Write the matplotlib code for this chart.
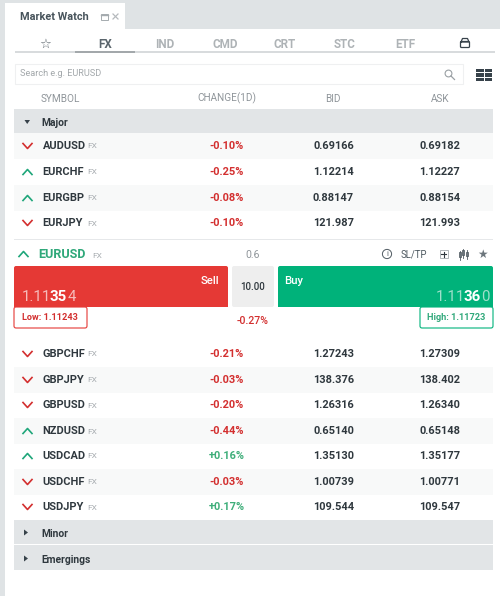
import matplotlib
matplotlib.use('Agg')
import matplotlib.pyplot as plt
from matplotlib.patches import Rectangle, FancyBboxPatch, Circle, Polygon

plt.rcParams['font.family'] = ['Roboto', 'DejaVu Sans']

# data
tabs = ['FX', 'IND', 'CMD', 'CRT', 'STC', 'ETF']
columns = ['SYMBOL', 'CHANGE(1D)', 'BID', 'ASK']
top_symbols = ['AUDUSD', 'EURCHF', 'EURGBP', 'EURJPY']
top_dirs = ['down', 'up', 'up', 'down']
top_change = ['-0.10%', '-0.25%', '-0.08%', '-0.10%']
top_bid = ['0.69166', '1.12214', '0.88147', '121.987']
top_ask = ['0.69182', '1.12227', '0.88154', '121.993']
bottom_symbols = ['GBPCHF', 'GBPJPY', 'GBPUSD', 'NZDUSD', 'USDCAD', 'USDCHF', 'USDJPY']
bottom_dirs = ['down', 'down', 'down', 'up', 'up', 'down', 'down']
bottom_change = ['-0.21%', '-0.03%', '-0.20%', '-0.44%', '+0.16%', '-0.03%', '+0.17%']
bottom_bid = ['1.27243', '138.376', '1.26316', '0.65140', '1.35130', '1.00739', '109.544']
bottom_ask = ['1.27309', '138.402', '1.26340', '0.65148', '1.35177', '1.00771', '109.547']

RED = '#e53935'
GREEN = '#00b27a'
DARK = '#37424a'
GREY = '#9aa0a4'
BAND = '#e2e5e7'

fig = plt.figure(figsize=(5, 5.96), dpi=100, facecolor='#dfe3e5')
ax = fig.add_axes([0, 0, 1, 1])
ax.set_xlim(0, 500)
ax.set_ylim(596, 0)
ax.axis('off')


def rect(x0, y0, x1, y1, color, **kw):
    ax.add_patch(Rectangle((x0, y0), x1 - x0, y1 - y0, facecolor=color, edgecolor='none', **kw))


def rrect(x0, y0, x1, y1, face, edge='none', lw=1):
    ax.add_patch(FancyBboxPatch((x0 + 2, y0 + 2), x1 - x0 - 4, y1 - y0 - 4,
                                boxstyle='round,pad=2,rounding_size=2',
                                facecolor=face, edgecolor=edge, linewidth=lw))


def chevron(x, y, d):
    if d == 'up':
        ax.plot([x - 4.5, x, x + 4.5], [y + 2.5, y - 2.5, y + 2.5], color='#1fa67a', lw=1.2)
    else:
        ax.plot([x - 4.5, x, x + 4.5], [y - 2.5, y + 2.5, y - 2.5], color='#d32f2f', lw=1.2)


def row(y, symbol, d, change, bid, ask):
    chevron(27.5, y, d)
    ax.text(42.5, y, symbol, fontsize=7.9, color='#2f383e', fontweight='semibold', va='center')
    ax.text(87, y + 0.5, 'FX', fontsize=6, color='#a8adb1', va='center')
    col = '#d32f2f' if change[0] == '-' else '#3fae7a'
    ax.text(226.5, y, change, fontsize=7.9, color=col, fontweight='semibold', va='center', ha='center')
    ax.text(333.5, y, bid, fontsize=7.9, color='#2f383e', fontweight='semibold', va='center', ha='center')
    ax.text(440, y, ask, fontsize=7.9, color='#2f383e', fontweight='semibold', va='center', ha='center')


# panel and tab
rect(5, 29, 500, 596, 'white')
rect(5, 3, 125, 29, 'white')
ax.text(19.5, 16.5, 'Market Watch', fontsize=7.8, color='#47535b', fontweight='bold', va='center')
ax.add_patch(Rectangle((100.5, 14), 7, 5.5, fill=False, edgecolor='#a5abaf', lw=0.7))
ax.plot([100.5, 107.5], [14.6, 14.6], color='#a5abaf', lw=1)
ax.plot([113, 118], [14, 19], color='#b5babd', lw=0.9)
ax.plot([113, 118], [19, 14], color='#b5babd', lw=0.9)

# symbol group tabs
rect(15, 51.3, 495, 53, '#d8dbdd')
rect(75, 51.3, 135, 53, '#a3a8ab')
ax.text(45, 44, '\u2606', fontsize=9.5, color='#5d676e', ha='center', va='center', family=['DejaVu Sans'])
for i, name in enumerate(tabs):
    ax.text(105 + 60 * i, 44.5, name, fontsize=8.4, ha='center', va='center', fontweight='bold',
            color='#5a656c' if name == 'FX' else '#aeb3b6')
ax.add_patch(FancyBboxPatch((461, 42), 8, 5, boxstyle='round,pad=0.5,rounding_size=1',
                            fill=False, edgecolor=DARK, lw=0.9))
ax.plot([461, 462.5, 467.5, 469, 461], [42, 38.5, 38.5, 42, 42], color=DARK, lw=0.9)

# search box and grid icon
ax.add_patch(Rectangle((14.5, 64), 448, 20, facecolor='white', edgecolor='#eff0f1', lw=0.8))
ax.text(20.5, 74, 'Search e.g. EURUSD', fontsize=6.6, color='#a3a8ab', va='center')
ax.add_patch(Circle((448.5, 73.5), 3.4, fill=False, edgecolor='#9aa0a4', lw=0.8))
ax.plot([451, 454.5], [76, 79.5], color='#9aa0a4', lw=0.9)
for x in [476, 484.7]:
    for y in [68.5, 73, 77.5]:
        rect(x, y, x + 7.7, y + 3.5, DARK)

# column headers
ax.text(41, 98.5, columns[0], fontsize=7.2, color='#8f959a', va='center')
for name, x in zip(columns[1:], [226.5, 333, 440]):
    ax.text(x, 98.5, name, fontsize=7.2, color='#8f959a', va='center', ha='center')

# major group
rect(14, 109, 493, 133, BAND)
ax.add_patch(Polygon([[24.5, 120], [30, 120], [27.2, 124]], facecolor=DARK))
ax.text(41.5, 122.5, 'Major', fontsize=7.4, color='#2f383e', fontweight='bold', va='center')

rect(14, 133, 493, 159, '#f8f9f9')
rect(14, 185, 493, 211, '#f8f9f9')
for i, y in enumerate([146, 172, 198, 223]):
    row(y, top_symbols[i], top_dirs[i], top_change[i], top_bid[i], top_ask[i])
rect(14, 239.2, 493, 240, '#e6e8ea')

# expanded EURUSD row
chevron(23.5, 254, 'up')
ax.text(38.5, 254.5, 'EURUSD', fontsize=9, color='#2fa87a', fontweight='bold', va='center')
ax.text(92, 255.5, 'FX', fontsize=6, color='#a8adb1', va='center')
ax.text(253, 255.5, '0.6', fontsize=7.6, color='#8f959a', ha='center', va='center')
ax.add_patch(Circle((387, 254), 4.6, fill=False, edgecolor='#4f5a61', lw=0.7))
ax.text(387, 254, 'i', fontsize=5.5, color='#4f5a61', ha='center', va='center')
ax.text(414, 254, 'SL/TP', fontsize=6.9, color='#4f5a61', ha='center', va='center')
ax.add_patch(Rectangle((439.5, 250), 8, 8, fill=False, edgecolor='#b0b5b8', lw=0.7))
ax.plot([443.5, 443.5], [251.5, 256.5], color='#2f383e', lw=0.8)
ax.plot([441, 446], [254, 254], color='#2f383e', lw=0.8)
for x, y0, y1 in [(459.5, 252, 258), (463.3, 250, 256), (467, 251.5, 257)]:
    ax.plot([x, x], [y0 - 1.5, y1 + 1.5], color='#4f5a61', lw=0.6)
    ax.add_patch(Rectangle((x - 1, y0), 2, y1 - y0 - 1, facecolor='white', edgecolor='#4f5a61', lw=0.6))
ax.text(482, 254, '\u2605', fontsize=8.5, color='#6c767c', ha='center', va='center', family=['DejaVu Sans'])

# sell / buy panel
rrect(14, 266, 228, 307, RED)
rrect(232, 266, 274, 307, '#eeeeee')
rrect(278, 266, 493, 307, GREEN)
ax.text(219.5, 280.5, 'Sell', fontsize=8.2, color='white', ha='right', va='center', fontweight='medium')
ax.text(284, 280.5, 'Buy', fontsize=8.2, color='white', ha='left', va='center', fontweight='medium')
ax.text(253, 286.5, '10.00', fontsize=7, color='#2f383e', ha='center', va='center', fontweight='medium')

ax.text(21.5, 297, '1.11', fontsize=10.8, color='#f6bcbb', va='center')
ax.text(50, 297, '35', fontsize=10.8, color='white', va='center', fontweight='bold')
ax.text(67.3, 297, '4', fontsize=10.8, color='#f6bcbb', va='center')
ax.text(435.5, 297, '1.11', fontsize=10.8, color='#9fe0cb', va='center')
ax.text(463.5, 297, '36', fontsize=10.8, color='white', va='center', fontweight='bold')
ax.text(481, 297, '0', fontsize=10.8, color='#9fe0cb', va='center')

ax.add_patch(FancyBboxPatch((16, 309), 69, 17, boxstyle='round,pad=2,rounding_size=2',
                            facecolor='white', edgecolor=RED, lw=0.8))
ax.add_patch(FancyBboxPatch((422, 309), 69, 17, boxstyle='round,pad=2,rounding_size=2',
                            facecolor='white', edgecolor=GREEN, lw=0.8))
rect(14, 304, 228, 307, RED, zorder=3)
rect(278, 304, 493, 307, GREEN, zorder=3)
ax.text(50, 318, 'Low: 1.11243', fontsize=6.6, color='#d32f2f', fontweight='bold', ha='center', va='center')
ax.text(456.5, 318, 'High: 1.11723', fontsize=6.6, color='#2fa87a', fontweight='bold', ha='center', va='center')
ax.text(253, 321.5, '-0.27%', fontsize=7.6, color='#d32f2f', fontweight='medium', ha='center', va='center')

# remaining rows
rect(14, 367, 493, 393, '#f8f9f9')
rect(14, 418, 493, 444, '#f8f9f9')
rect(14, 469, 493, 495, '#f8f9f9')
for i, y in enumerate([354, 380, 405, 431, 456, 482, 507]):
    row(y, bottom_symbols[i], bottom_dirs[i], bottom_change[i], bottom_bid[i], bottom_ask[i])

# collapsed groups
rect(14, 520, 493, 544, BAND)
rect(14, 545, 493, 570, BAND)
for y, name in [(533, 'Minor'), (559, 'Emergings')]:
    ax.add_patch(Polygon([[24, y - 3.5], [24, y + 2.5], [28, y - 0.5]], facecolor=DARK))
    ax.text(41.5, y + 1, name, fontsize=7.4, color='#2f383e', fontweight='bold', va='center')

fig.savefig('out.png', dpi=100, facecolor=fig.get_facecolor())
